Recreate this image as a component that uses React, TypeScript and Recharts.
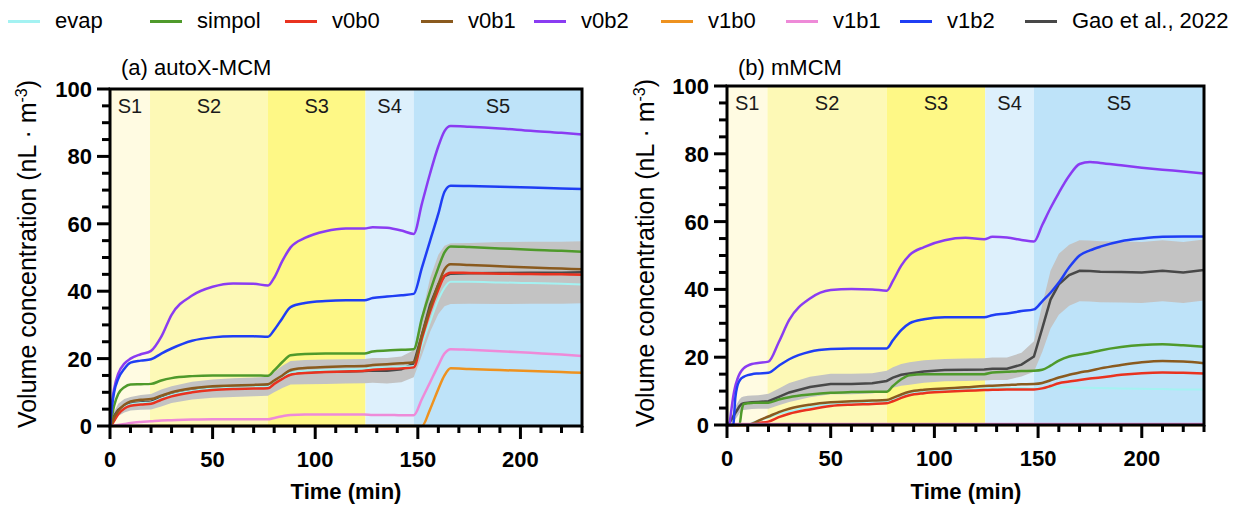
import React from "react";
import {
  ComposedChart,
  Line,
  Area,
  XAxis,
  YAxis,
  ReferenceArea,
} from "recharts";

const FONT = "'Liberation Sans', Arial, Helvetica, sans-serif";

// legend / series
const seriesKeys = ["evap", "simpol", "v0b0", "v0b1", "v0b2", "v1b0", "v1b1", "v1b2", "gao"];
const seriesNames = ["evap", "simpol", "v0b0", "v0b1", "v0b2", "v1b0", "v1b1", "v1b2", "Gao et al., 2022"];
const seriesColors = ["#a4f2f2", "#4f9a2b", "#e9321f", "#8a5a1e", "#8a3cf2", "#ee921f", "#ee8ad8", "#1f3ef4", "#484848"];

// experiment stages
const stageNames = ["S1", "S2", "S3", "S4", "S5"];
const stageEdges = [0, 19.5, 77, 124.5, 148, 230];
const stageFills = ["#fffbe2", "#fdf9b6", "#fef886", "#ddf0fc", "#bee3f9"];

const xTicks = [0, 10, 20, 30, 40, 50, 60, 70, 80, 90, 100, 110, 120, 130, 140, 150, 160, 170, 180, 190, 200, 210, 220, 230];
const yTicks = [0, 5, 10, 15, 20, 25, 30, 35, 40, 45, 50, 55, 60, 65, 70, 75, 80, 85, 90, 95, 100];

// (a) autoX-MCM
const timeA = [0, 1, 2, 4, 7, 10, 15, 20, 25, 30, 40, 50, 60, 70, 77, 80, 84, 88, 95, 105, 115, 124, 128, 135, 142, 148, 152, 156, 160, 163, 166, 175, 190, 205, 220, 230];
const evapA = [0, 0.6, 1.7, 3.8, 5.6, 6.4, 6.8, 7, 8.2, 9.2, 10.4, 11.1, 11.4, 11.6, 11.7, 13, 14.6, 15.8, 16.3, 16.6, 16.8, 17, 17.2, 17.4, 17.6, 17.8, 24, 31, 37.5, 41, 42.8, 42.8, 42.6, 42.4, 42.2, 42];
const simpolA = [0, 3, 6, 9.5, 11.5, 12.3, 12.4, 12.5, 13.5, 14.2, 14.8, 15, 15, 15, 14.9, 16.5, 19, 21, 21.4, 21.5, 21.5, 21.5, 22.1, 22.4, 22.6, 22.8, 32, 40, 47, 51.5, 53.3, 53.1, 52.7, 52.3, 52, 51.7];
const v0b0A = [0, 0.5, 1.5, 3.5, 5.2, 6, 6.4, 6.6, 7.8, 8.8, 10, 10.7, 11, 11.1, 11.2, 12.5, 14, 15.2, 15.7, 16, 16.2, 16.4, 16.7, 16.9, 17.1, 17.4, 26, 34, 40.5, 44.5, 45.5, 45.4, 45.2, 45.1, 45, 44.9];
const v0b1A = [0, 1, 2.5, 4.5, 6.3, 7.3, 7.8, 8, 9, 10, 11.2, 11.8, 12, 12.2, 12.4, 13.5, 15, 16.6, 17.2, 17.5, 17.7, 17.8, 18.1, 18.3, 18.6, 18.9, 27, 35, 42, 46.5, 48, 47.8, 47.4, 47, 46.7, 46.5];
const v0b2A = [0, 7, 11, 15.5, 18.5, 20, 21.3, 22.3, 26.5, 33, 38.7, 41.3, 42.3, 42.2, 41.7, 44, 49, 53, 55.8, 57.8, 58.6, 58.6, 59, 58.8, 58, 57, 66, 75, 83, 87.5, 89, 88.8, 88.3, 87.6, 87, 86.5];
const v1b0A = [0, 0, 0, 0, 0, 0, 0, 0, 0, 0, 0, 0, 0, 0, 0, 0, 0, 0, 0, 0, 0, 0, 0, 0, 0, 0, 0, 5, 11, 15, 17.1, 16.9, 16.6, 16.3, 16, 15.8];
const v1b1A = [0, 0, 0.1, 0.3, 0.6, 0.9, 1.2, 1.4, 1.6, 1.7, 1.9, 2, 2, 2, 2, 2.4, 2.9, 3.3, 3.4, 3.4, 3.4, 3.4, 3.3, 3.3, 3.2, 3.2, 8, 13, 18, 21.5, 22.8, 22.6, 22.2, 21.7, 21.2, 20.8];
const v1b2A = [0, 6, 10, 14, 17, 18.8, 19.4, 19.8, 21.5, 23, 25.3, 26.3, 26.6, 26.6, 26.5, 28.5, 32, 35.3, 36.5, 37.1, 37.3, 37.3, 38, 38.4, 38.8, 39.2, 47, 55, 63, 69.5, 71.3, 71.2, 71, 70.8, 70.5, 70.3];
const gaoA = [0, 1.5, 3, 4.8, 6, 6.6, 7, 7.2, 8.3, 9.3, 10.5, 11.1, 11.4, 11.6, 11.8, 13, 14.6, 15.8, 16, 16.1, 16.2, 16.3, 16.5, 16.4, 16.8, 18.5, 27, 36, 42, 44.5, 45.2, 45.3, 45.4, 45.5, 45.5, 45.6];
const gaoSdA = [0, 0.8, 1.2, 1.8, 2, 2, 2.2, 2.3, 2.5, 2.5, 2.6, 2.7, 2.8, 2.8, 2.8, 3, 3.3, 3.5, 3.6, 3.6, 3.6, 3.6, 3.7, 3.8, 3.8, 4, 6, 8, 8.8, 9, 9, 9, 9.2, 9.2, 9.2, 9.2];

// (b) mMCM
const timeB = [0, 1, 2, 3, 4, 5, 6, 7, 8, 10, 12, 15, 20, 25, 30, 40, 50, 60, 70, 77, 80, 84, 88, 95, 105, 115, 124, 128, 135, 142, 148, 152, 156, 160, 165, 170, 175, 180, 190, 200, 210, 220, 230];
const evapB = [0, 0, 0, 0, 0, 0, 0, 0, 0, 0, 0.6, 1.3, 2.2, 3.3, 4, 5.3, 6.1, 6.5, 6.7, 6.9, 7.5, 8.5, 9.3, 9.9, 10.3, 10.6, 10.8, 10.9, 10.9, 10.9, 10.8, 10.9, 11, 11.1, 11.1, 11, 11, 10.9, 10.8, 10.7, 10.6, 10.5, 10.5];
const simpolB = [0, 0, 0, 0, 0, 0, 0, 4, 6.2, 6.4, 6.5, 6.6, 6.6, 7.5, 8.2, 9, 9.5, 9.7, 9.8, 9.8, 11.5, 13.5, 14.7, 15, 15, 15, 15, 15.5, 15.7, 15.9, 16, 16.3, 17.5, 19, 20.2, 20.8, 21.3, 22, 23, 23.6, 23.8, 23.5, 23.1];
const v0b0B = [0, 0, 0, 0, 0, 0, 0, 0, 0, 0.1, 0.3, 0.6, 1, 2.3, 3.3, 4.6, 5.6, 6, 6.2, 6.4, 7, 8, 8.8, 9.4, 9.8, 10.1, 10.3, 10.4, 10.5, 10.5, 10.5, 10.8, 11.5, 12.3, 12.8, 13.3, 13.7, 14, 14.8, 15.3, 15.5, 15.4, 15.2];
const v0b1B = [0, 0, 0, 0, 0, 0, 0, 0, 0, 0, 0.3, 1.2, 2.5, 3.8, 4.8, 6, 6.7, 7, 7.2, 7.4, 8, 9, 9.8, 10.4, 10.8, 11.1, 11.5, 11.6, 11.8, 12, 12.1, 12.4, 13.2, 14, 14.8, 15.5, 16, 16.7, 17.7, 18.5, 18.9, 18.7, 18.2];
const v0b2B = [0, 0, 4, 8.4, 11.5, 13.5, 15, 16, 16.7, 17.5, 18, 18.3, 18.7, 24.5, 31, 37.3, 39.8, 40.1, 40, 39.6, 42.5, 47, 50.1, 52.5, 54.5, 55.2, 54.8, 55.5, 55.3, 54.6, 54.1, 59, 64, 68.5, 73.5, 77, 77.6, 77.3, 76.6, 75.9, 75.3, 74.8, 74.2];
const v1b0B = [0, 0, 0, 0, 0, 0, 0, 0, 0, 0, 0, 0, 0, 0, 0, 0, 0, 0, 0, 0, 0, 0, 0, 0, 0, 0, 0, 0, 0, 0, 0, 0, 0, 0, 0, 0, 0, 0, 0, 0, 0, 0, 0];
const v1b1B = [0, 0.3, 0.3, 0.3, 0.3, 0.3, 0.3, 0.3, 0.3, 0.3, 0.3, 0.3, 0.3, 0.3, 0.3, 0.3, 0.3, 0.3, 0.3, 0.3, 0.3, 0.3, 0.3, 0.3, 0.3, 0.3, 0.3, 0.3, 0.3, 0.3, 0.3, 0.3, 0.3, 0.3, 0.3, 0.3, 0.3, 0.3, 0.3, 0.3, 0.3, 0.3, 0.3];
const v1b2B = [0, 0, 0, 0, 8, 11.5, 13, 13.8, 14.2, 14.7, 15, 15.2, 15.4, 17.5, 19.4, 21.6, 22.4, 22.6, 22.6, 22.6, 25, 28, 30, 31.2, 31.8, 31.8, 31.8, 32.4, 32.9, 33.6, 34.1, 36.5, 39, 42, 46.5, 50, 51.5, 52.6, 54.2, 55, 55.5, 55.6, 55.6];
const gaoB = [0, 0.5, 1.5, 2.5, 3.5, 4.5, 5.5, 6.2, 6.4, 6.6, 6.7, 6.8, 7, 8.3, 9.6, 11.2, 12.1, 12.1, 12.3, 13, 14, 14.8, 15.2, 15.8, 16.2, 16.3, 16.4, 16.6, 16.6, 17.8, 20.2, 28.5, 37, 41.5, 44.2, 45.5, 45.4, 45.2, 45.1, 45, 45.5, 45, 45.7];
const gaoSdB = [0, 0.5, 1, 1.5, 1.8, 2, 2, 2, 2, 2, 2, 2, 2.2, 2.5, 2.8, 3, 3, 3, 3, 3, 3, 3.2, 3.3, 3.3, 3.3, 3.3, 3.3, 3.3, 3.3, 3.5, 4.5, 7, 8.5, 9, 9, 9, 9, 9, 9, 9, 9, 9, 9];

function buildRows(time: number[], cols: number[][], gao: number[], sd: number[]) {
  return time.map((t, i) => {
    const row: any = { t, band: [Math.max(0, gao[i] - sd[i]), gao[i] + sd[i]] };
    seriesKeys.forEach((k, j) => {
      row[k] = k === "gao" ? gao[i] : cols[j][i];
    });
    return row;
  });
}

const dataA = buildRows(timeA, [evapA, simpolA, v0b0A, v0b1A, v0b2A, v1b0A, v1b1A, v1b2A], gaoA, gaoSdA);
const dataB = buildRows(timeB, [evapB, simpolB, v0b0B, v0b1B, v0b2B, v1b0B, v1b1B, v1b2B], gaoB, gaoSdB);

const renderXTick = (props: any) => {
  const v = props.payload.value;
  if (v % 50 !== 0) return <g />;
  return (
    <text x={Number(props.x)} y={Number(props.y) + 41} textAnchor="middle" fontFamily={FONT} fontWeight="bold" fontSize={22} fill="#000">
      {v}
    </text>
  );
};

const renderYTick = (props: any) => {
  const v = props.payload.value;
  if (v % 20 !== 0) return <g />;
  return (
    <text x={Number(props.x) - 18} y={Number(props.y) + 8} textAnchor="end" fontFamily={FONT} fontWeight="bold" fontSize={22} fill="#000">
      {v}
    </text>
  );
};

// plot boxes, in page pixels (must agree with the chart margins below)
const boxA = { left: 110, right: 582, top: 89, bottom: 426 };
const boxB = { left: 727, right: 1204, top: 86, bottom: 425 };

// black frame + comb of tick marks on top of each panel
function Frame({ box }: { box: { left: number; right: number; top: number; bottom: number } }) {
  const w = box.right - box.left;
  const h = box.bottom - box.top;
  return (
    <g stroke="#000" strokeWidth={3} fill="none">
      <rect x={box.left} y={box.top} width={w} height={h} />
      {xTicks.map((v) => {
        const px = box.left + (v / 230) * w;
        return <line key={"x" + v} x1={px} x2={px} y1={box.bottom} y2={box.bottom + (v % 50 === 0 ? 13 : 7)} />;
      })}
      {yTicks.map((v) => {
        const py = box.bottom - (v / 100) * h;
        return <line key={"y" + v} x1={box.left - (v % 20 === 0 ? 13 : 8)} x2={box.left} y1={py} y2={py} />;
      })}
    </g>
  );
}

function Panel({ data, width, margin }: { data: any[]; width: number; margin: any }) {
  const order = ["gao", "evap", "simpol", "v0b0", "v0b1", "v1b0", "v1b1", "v0b2", "v1b2"];
  return (
    <ComposedChart width={width} height={506} data={data} margin={margin}>
      {stageNames.map((s, i) => (
        <ReferenceArea
          key={s}
          x1={stageEdges[i]}
          x2={stageEdges[i + 1]}
          y1={0}
          y2={100}
          fill={stageFills[i]}
          fillOpacity={1}
          label={{ value: s, position: "insideTop", offset: 10, fill: "#1a1a1a", fontSize: 20, fontFamily: FONT }}
        />
      ))}
      <XAxis
        dataKey="t"
        type="number"
        domain={[0, 230]}
        ticks={xTicks}
        interval={0}
        height={30}
        tickSize={0}
        tickMargin={0}
        tick={renderXTick}
        axisLine={false}
        tickLine={false}
      />
      <YAxis
        type="number"
        domain={[0, 100]}
        ticks={yTicks}
        interval={0}
        width={50}
        tickSize={0}
        tickMargin={0}
        tick={renderYTick}
        axisLine={false}
        tickLine={false}
      />
      <Area dataKey="band" type="linear" fill="#c3c3c3" fillOpacity={1} stroke="none" isAnimationActive={false} />
      {order.map((k) => {
        const j = seriesKeys.indexOf(k);
        return (
          <Line
            key={k}
            dataKey={k}
            type={k === "gao" ? "linear" : "monotone"}
            stroke={seriesColors[j]}
            strokeWidth={k === "evap" ? 2 : 2.5}
            dot={false}
            isAnimationActive={false}
          />
        );
      })}
    </ComposedChart>
  );
}

const legendX = [8, 150, 285, 421, 534, 661, 786, 900, 1025];

const yLabel = (
  <>
    Volume concentration (nL · m<sup style={{ fontSize: 16, lineHeight: 0, verticalAlign: "9px" }}>-3</sup>)
  </>
);

export default function App() {
  return (
    <div style={{ position: "absolute", left: 0, top: 0, width: 1234, height: 506, background: "#fff", fontFamily: FONT, color: "#000" }}>
      <div style={{ position: "absolute", left: 0, top: 0 }}>
        <Panel data={dataA} width={620} margin={{ top: boxA.top, right: 620 - boxA.right, bottom: 506 - boxA.bottom - 30, left: boxA.left - 50 }} />
      </div>
      <div style={{ position: "absolute", left: 617, top: 0 }}>
        <Panel data={dataB} width={617} margin={{ top: boxB.top, right: 1234 - boxB.right, bottom: 506 - boxB.bottom - 30, left: boxB.left - 617 - 50 }} />
      </div>

      <svg width={1234} height={506} style={{ position: "absolute", left: 0, top: 0, pointerEvents: "none" }}>
        <Frame box={boxA} />
        <Frame box={boxB} />
      </svg>

      {seriesNames.map((n, i) => (
        <React.Fragment key={n}>
          <div style={{ position: "absolute", left: legendX[i], top: 20, width: 32, height: 3, background: seriesColors[i] }} />
          <div style={{ position: "absolute", left: legendX[i] + 47, top: 10, fontSize: 22, lineHeight: "22px", whiteSpace: "nowrap" }}>{n}</div>
        </React.Fragment>
      ))}

      <div style={{ position: "absolute", left: 121, top: 57, fontSize: 22, lineHeight: "22px", whiteSpace: "nowrap" }}>(a) autoX-MCM</div>
      <div style={{ position: "absolute", left: 738, top: 57, fontSize: 22, lineHeight: "22px", whiteSpace: "nowrap" }}>(b) mMCM</div>

      <div style={{ position: "absolute", left: 27, top: 254, transform: "translate(-50%, -50%) rotate(-90deg)", fontSize: 25, lineHeight: "30px", whiteSpace: "nowrap" }}>{yLabel}</div>
      <div style={{ position: "absolute", left: 645, top: 253, transform: "translate(-50%, -50%) rotate(-90deg)", fontSize: 25, lineHeight: "30px", whiteSpace: "nowrap" }}>{yLabel}</div>

      <div style={{ position: "absolute", left: 346, top: 481, transform: "translateX(-50%)", fontSize: 22, lineHeight: "22px", fontWeight: "bold", whiteSpace: "nowrap" }}>Time (min)</div>
      <div style={{ position: "absolute", left: 966, top: 481, transform: "translateX(-50%)", fontSize: 22, lineHeight: "22px", fontWeight: "bold", whiteSpace: "nowrap" }}>Time (min)</div>
    </div>
  );
}
